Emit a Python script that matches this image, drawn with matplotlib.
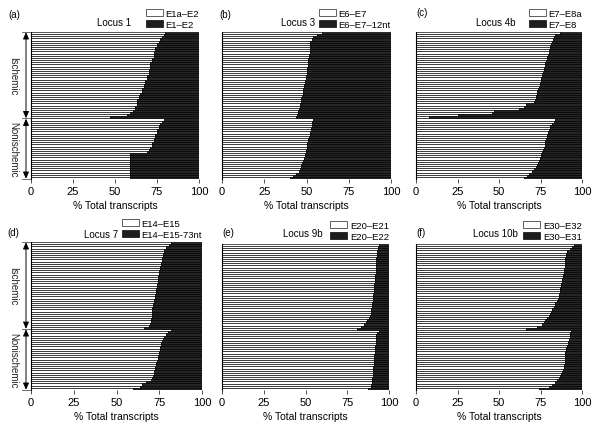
import numpy as np
import matplotlib
matplotlib.use('Agg')
import matplotlib.pyplot as plt
from matplotlib.patches import Patch
from matplotlib.transforms import blended_transform_factory

plt.rcParams['font.family'] = ['Liberation Sans', 'DejaVu Sans']

# % of the first transcript (white part) per sample, top to bottom
# 40 ischemic samples, then 28 nonischemic
loci = ['Locus 1', 'Locus 3', 'Locus 4b', 'Locus 7', 'Locus 9b', 'Locus 10b']
panels = ['(a)', '(b)', '(c)', '(d)', '(e)', '(f)']
white_names = ['E1a\u2013E2', 'E6\u2013E7', 'E7\u2013E8a', 'E14\u2013E15', 'E20\u2013E21', 'E30\u2013E32']
black_names = ['E1\u2013E2', 'E6\u2013E7\u201312nt', 'E7\u2013E8', 'E14\u2013E15-73nt', 'E20\u2013E22', 'E30\u2013E31']

isch_a = [80, 79, 78, 77, 76, 75, 75, 74, 74, 73, 73, 73, 72, 72, 71, 71, 71, 70, 70, 70,
          69, 69, 68, 68, 67, 67, 66, 66, 65, 64, 64, 63, 63, 63, 62, 62, 61, 59, 57, 47]
non_a = [79, 78, 77, 76, 76, 75, 75, 74, 74, 73, 73, 72, 72, 71, 70, 69,
         59, 59, 59, 59, 59, 59, 59, 59, 59, 59, 59, 59]

isch_b = [59, 56, 54, 53, 52, 52, 52, 52, 52, 52, 51.5, 51.5, 51, 51, 51, 51, 50.5, 50, 50, 50,
          49.5, 49.5, 49, 49, 48.5, 48.5, 48, 48, 48, 47.5, 47, 47, 46.5, 46, 46, 45.5, 45, 45, 44.5, 43.5]
non_b = [54, 53.5, 53, 53, 52.5, 52.5, 52, 52, 51.5, 51, 51, 50.5, 50, 50, 49.5, 49.5, 49, 49,
         48.5, 48, 47.5, 47, 46.5, 46, 45.5, 44, 42, 40]

isch_c = [87, 84, 83, 82.5, 82, 81.5, 81, 80.5, 80, 80, 79.5, 79, 79, 78.5, 78, 77.5, 77, 77, 76.5, 76,
          76, 75.5, 75, 74.5, 74.5, 74, 73.5, 73, 73, 72.5, 72, 71.5, 71, 66, 65, 62, 47, 46, 25, 8]
non_c = [84, 83, 82, 81, 80.5, 80, 79.5, 79, 79, 78.5, 78, 78, 77.5, 77, 76.5, 76, 75.5, 75,
         74.5, 74, 73.5, 73, 72, 71, 70, 68, 67, 65]

isch_d = [82, 80.5, 79, 78, 77.5, 77, 77, 76.5, 76.5, 76, 76, 75.5, 75.5, 75, 75, 74.5, 74.5, 74, 74, 73.5,
          73.5, 73, 73, 73, 72.5, 72.5, 72, 72, 71.5, 71.5, 71, 71, 71, 70.5, 70.5, 70, 70, 69.5, 69, 66]
non_d = [82, 80, 79, 78, 77, 76.5, 76, 76, 75.5, 75.5, 75, 75, 74.5, 74, 73.5, 73, 73, 72.5,
         72.5, 72, 72, 71.5, 71, 70, 67.5, 65, 63.5, 59.5]

isch_e = [94, 93.5, 93.5, 93, 93, 93, 92.5, 92.5, 92.5, 92.5, 92, 92, 92, 92, 91.5, 91.5, 91.5, 91.5, 91, 91,
          91, 91, 91, 90.5, 90.5, 90.5, 90.5, 90, 90, 90, 89.5, 89.5, 89, 88.5, 88, 87, 86, 85, 83, 81]
non_e = [94, 93, 92.5, 92.5, 92, 92, 92, 91.5, 91.5, 91.5, 91.5, 91, 91, 91, 91, 91, 91, 90.5,
         90.5, 90.5, 90.5, 90.5, 90, 90, 90, 89.5, 89, 87.5]

isch_f = [95, 94, 93, 91, 90.5, 90.5, 90, 90, 90, 89.5, 89.5, 89, 89, 89, 88.5, 88.5, 88, 88, 87.5, 87.5,
          87, 87, 86.5, 86, 86, 85.5, 85, 84, 83.5, 83, 82, 81.5, 81, 80, 79, 78, 77, 76, 73, 66]
non_f = [93.5, 93, 92.5, 92.5, 92, 91.5, 91.5, 91, 90.5, 90.5, 90, 90, 90, 90, 89.5, 89.5, 89, 89,
         88.5, 88, 87.5, 87, 86, 85, 84, 82, 80, 74]

data = [(isch_a, non_a), (isch_b, non_b), (isch_c, non_c),
        (isch_d, non_d), (isch_e, non_e), (isch_f, non_f)]

W, H = 600, 427
fig = plt.figure(figsize=(6, 4.27), dpi=100)

# axes boxes in pixels: left, top, right, bottom
boxes = [(31, 33, 199, 180), (222, 33, 391, 180), (416, 33, 582, 180),
         (31, 243, 202, 391), (222, 245, 389, 391), (416, 245, 582, 391)]
# panel letter (left x, y), locus label (right x, y)
letter_pos = [(8, 15), (219, 15), (416, 13), (7, 233), (222, 233), (416, 233)]
locus_pos = [(131, 23), (315, 23), (515, 23), (118, 235), (323, 234), (518, 234)]

def fx(x):
    return x / W

def fy(y):
    return 1 - y / H

for k in range(6):
    l, t, r, b = boxes[k]
    ax = fig.add_axes([fx(l), fy(b), fx(r) - fx(l), fy(t) - fy(b)])
    isch, non = data[k]
    vals = np.array(isch + non, dtype=float)
    n = len(vals)
    pos = np.arange(n)
    ax.barh(pos, vals, height=1.0, color='white', edgecolor='#111111', linewidth=0.5)
    ax.barh(pos, 100 - vals, left=vals, height=1.0, color='#262626', edgecolor='black', linewidth=0.5)
    ax.set_xlim(0, 100)
    ax.set_ylim(n - 0.5, -0.5)
    ax.set_yticks([])
    ax.set_xticks([0, 25, 50, 75, 100])
    ax.tick_params(axis='x', labelsize=8, length=3, width=0.6, pad=2, color='#333333')
    for s in ['top', 'right', 'bottom']:
        ax.spines[s].set_visible(False)
    ax.spines['left'].set_linewidth(0.8)
    ax.set_xlabel('% Total transcripts', fontsize=7.5, labelpad=3)

    handles = [Patch(facecolor='white', edgecolor='#444444', linewidth=0.6),
               Patch(facecolor='#1e1e1e', edgecolor='#1e1e1e', linewidth=0.6)]
    ax.legend(handles, [white_names[k], black_names[k]], loc='lower right',
              bbox_to_anchor=(1.0, 1.02), frameon=False, fontsize=6.8,
              handlelength=1.8, handleheight=0.8, handletextpad=0.3,
              labelspacing=0.25, borderpad=0, borderaxespad=0)

    lx, ly = letter_pos[k]
    fig.text(fx(lx), fy(ly), panels[k], fontsize=7, ha='left', va='center')
    tx, ty = locus_pos[k]
    fig.text(fx(tx), fy(ty), loci[k], fontsize=7, ha='right', va='center')

    if k in (0, 3):
        ni = len(isch)
        tr = blended_transform_factory(ax.transAxes, ax.transData)
        xa = -5 / (r - l)
        groups = [(-0.5, ni - 0.5, 'Ischemic'), (ni - 0.5, n - 0.5, 'Nonischemic')]
        for y0, y1, name in groups:
            ax.annotate('', xy=(xa, y0 + 0.1), xytext=(xa, y1 - 0.1), xycoords=tr, textcoords=tr,
                        arrowprops=dict(arrowstyle='<|-|>,head_length=0.5,head_width=0.22',
                                        color='black', lw=0.7, shrinkA=0, shrinkB=0,
                                        mutation_scale=8),
                        annotation_clip=False)
            ax.text(-18 / (r - l), (y0 + y1) / 2, name, transform=tr, rotation=-90,
                    ha='center', va='center', fontsize=7, color='#222222', clip_on=False)
        for yy in (-0.5, ni - 0.5, n - 0.5):
            ax.plot([-9 / (r - l), -1 / (r - l)], [yy, yy], transform=tr, color='#555555',
                    lw=0.6, clip_on=False)

fig.savefig('out.png', dpi=100)
